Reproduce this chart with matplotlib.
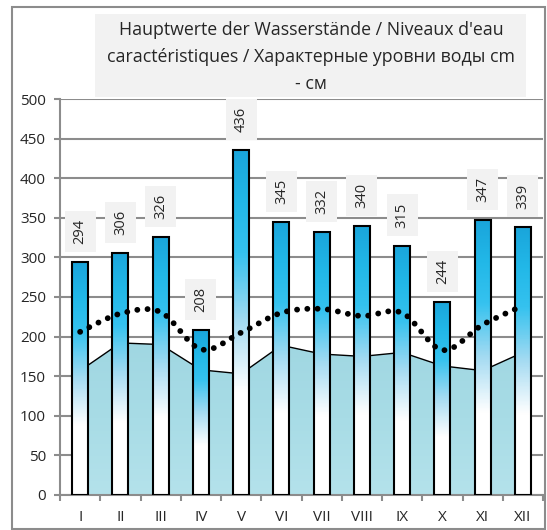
import numpy as np
import matplotlib
matplotlib.use("Agg")
import matplotlib.pyplot as plt
from matplotlib.colors import LinearSegmentedColormap
from matplotlib.patches import Rectangle, Polygon, PathPatch
from matplotlib.path import Path

plt.rcParams['font.family'] = ['Open Sans', 'DejaVu Sans']

months = ['I', 'II', 'III', 'IV', 'V', 'VI', 'VII', 'VIII', 'IX', 'X', 'XI', 'XII']
# highest water levels (bars)
high = [294, 306, 326, 208, 436, 345, 332, 340, 315, 244, 347, 339]
# mean water levels (dotted smooth line)
mean = [206, 229, 231, 184, 205, 230, 235, 226, 230, 183, 215, 239]
# low water levels (area)
low = [157, 192, 190, 158, 153, 189, 178, 175, 180, 163, 157, 180]
yticks = [0, 50, 100, 150, 200, 250, 300, 350, 400, 450, 500]
title_lines = ["Hauptwerte der Wasserstände / Niveaux d'eau",
               "caractéristiques / Характерные уровни воды cm",
               "- см"]

W, H = 547, 530
fig = plt.figure(figsize=(W / 100, H / 100), dpi=100)

# outer frame + title box (pixel coords -> figure fraction)
fig.patches.append(Rectangle((12 / W, 1 - 529 / H), 533 / W, 522 / H, transform=fig.transFigure,
                             fill=False, ec='#8c8c8c', lw=1.5))
fig.patches.append(Rectangle((95 / W, 1 - 97 / H), 431 / W, 83 / H, transform=fig.transFigure,
                             fc='#f2f2f2', ec='none'))
for i, line in enumerate(title_lines):
    fig.text(311 / W, 1 - (30 + 27 * i) / H, line, ha='center', va='center',
             fontsize=12.8, color='#262626')

ax = fig.add_axes([60 / W, 35 / H, 483 / W, 396 / H])
x = np.arange(len(months))

# low-water area with gradient fill
area_poly = Polygon([(x[0], 0)] + list(zip(x, low)) + [(x[-1], 0)], closed=True,
                    fc='none', ec='none')
ax.add_patch(area_poly)
area_cmap = LinearSegmentedColormap.from_list('water', ['#b4e2eb', '#a8dce6', '#a0d7e2'])
im = ax.imshow(np.linspace(0, 1, 100).reshape(-1, 1), cmap=area_cmap, origin='lower',
               extent=(x[0], x[-1], 0, max(low)), aspect='auto', zorder=1)
im.set_clip_path(area_poly)
ax.plot(x, low, color='black', lw=1, zorder=1.2)

# bars with vertical gradient
bar_cmap = LinearSegmentedColormap.from_list('bar', [
    (0.0, '#ffffff'), (0.3, '#ffffff'), (0.5, '#a5dbf2'),
    (0.7, '#35c2ef'), (0.85, '#22b8e8'), (1.0, '#1aa5db')])
grad = np.linspace(0, 1, 200).reshape(-1, 1)
bars = ax.bar(x, high, width=0.4, fc='none', ec='black', lw=1.5, zorder=3)
for b in bars:
    bx, bw, bh = b.get_x(), b.get_width(), b.get_height()
    ax.imshow(grad, cmap=bar_cmap, origin='lower', extent=(bx, bx + bw, 0, bh),
              aspect='auto', zorder=2)

# value labels
for xi, v in zip(x, high):
    ax.annotate(str(v), (xi, v), xytext=(0, 22), textcoords='offset points',
                rotation=90, ha='center', va='center', fontsize=10.5, color='#262626',
                bbox=dict(boxstyle='square,pad=0.55', fc='#f2f2f2', ec='none'), zorder=5)

# smoothed mean line (Bezier through the points)
pts = np.column_stack([x, mean]).astype(float)
verts = [pts[0]]
codes = [Path.MOVETO]
n = len(pts)
for i in range(n - 1):
    p0 = pts[max(i - 1, 0)]
    p1 = pts[i]
    p2 = pts[i + 1]
    p3 = pts[min(i + 2, n - 1)]
    verts += [p1 + (p2 - p0) / 6, p2 - (p3 - p1) / 6, p2]
    codes += [Path.CURVE4] * 3
curve = PathPatch(Path(verts, codes), fill=False, ec='black', lw=4.2,
                  linestyle=(0, (0.01, 1.75)), capstyle='round', zorder=4)
ax.add_patch(curve)

ax.set_xlim(-0.5, 11.5)
ax.set_ylim(0, 500)
ax.set_yticks(yticks)
ax.set_xticks(x)
ax.set_xticklabels(months)
ax.set_xticks(np.arange(-0.5, 12, 1), minor=True)
ax.grid(axis='y', color='#8c8c8c', lw=1.5)
ax.set_axisbelow(True)
for s in ['top', 'right']:
    ax.spines[s].set_visible(False)
for s in ['left', 'bottom']:
    ax.spines[s].set_color('#8c8c8c')
    ax.spines[s].set_linewidth(1.5)
ax.tick_params(axis='y', length=4, width=1.5, color='#8c8c8c', labelsize=11,
               labelcolor='#262626', pad=6)
ax.tick_params(axis='x', which='major', length=0, labelsize=11, labelcolor='#262626', pad=11)
ax.tick_params(axis='x', which='minor', length=4, width=1.5, color='#8c8c8c')

fig.savefig('out.png', dpi=100)
